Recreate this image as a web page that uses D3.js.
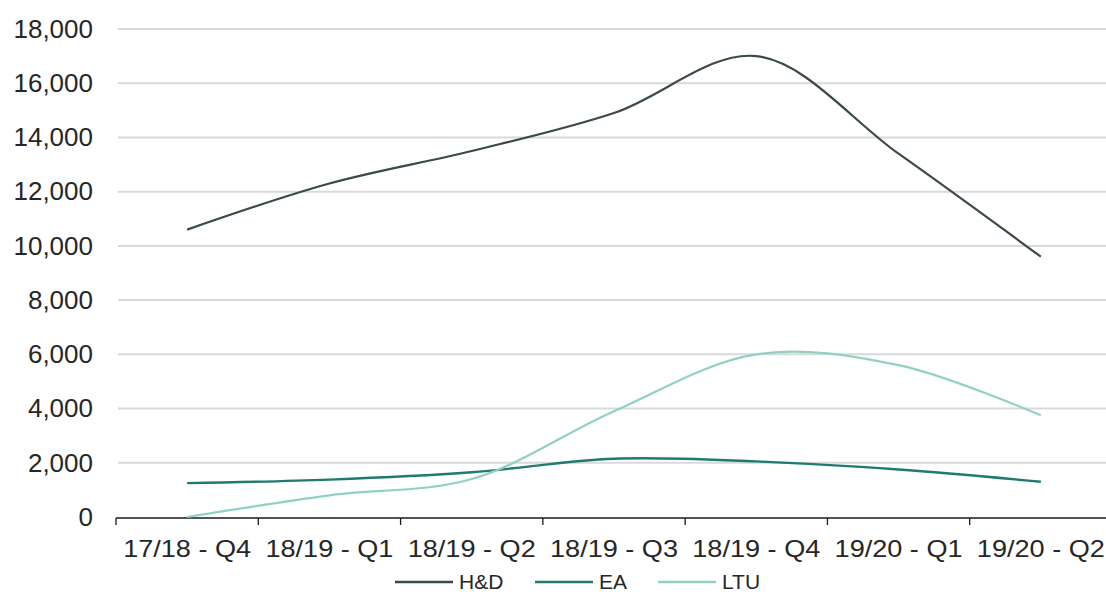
<!DOCTYPE html>
<html>
<head>
<meta charset="utf-8">
<script src="https://cdn.jsdelivr.net/npm/d3@7"></script>
<style>
  html, body { margin: 0; padding: 0; background: #ffffff; }
  svg { display: block; font-family: "Liberation Sans", Arial, sans-serif; }
</style>
</head>
<body>
<svg id="chart" width="1106" height="594"></svg>
<script>
// Quarterly figures per series
const categories = ["17/18 - Q4", "18/19 - Q1", "18/19 - Q2", "18/19 - Q3", "18/19 - Q4", "19/20 - Q1", "19/20 - Q2"];
const hdValues  = [10600, 12300, 13500, 14900, 17000, 13400, 9600];
const eaValues  = [1250, 1380, 1650, 2150, 2050, 1750, 1300];
const ltuValues = [0, 800, 1400, 3900, 6000, 5600, 3750];
const seriesNames = ["H&D", "EA", "LTU"];
const seriesColors = ["#3b4a46", "#1f7b6e", "#8fd2c5"];
const yTicks = [0, 2000, 4000, 6000, 8000, 10000, 12000, 14000, 16000, 18000];

const series = [
  { name: seriesNames[0], values: hdValues,  color: seriesColors[0], width: 2.2 },
  { name: seriesNames[1], values: eaValues,  color: seriesColors[1], width: 2.4 },
  { name: seriesNames[2], values: ltuValues, color: seriesColors[2], width: 2.2 }
];

const svg = d3.select("#chart");
const margin = { left: 116, right: -6, top: 29, bottom: 77 };
const W = 1106, H = 594;

const x = d3.scaleBand()
  .domain(categories)
  .range([margin.left, W - margin.right])
  .paddingInner(0).paddingOuter(0);

const y = d3.scaleLinear()
  .domain([0, 18000])
  .range([H - margin.bottom, margin.top]);

// Horizontal gridlines
svg.append("g")
  .selectAll("line")
  .data(yTicks.filter(d => d > 0))
  .join("line")
  .attr("x1", margin.left + 2)
  .attr("x2", W)
  .attr("y1", d => y(d))
  .attr("y2", d => y(d))
  .attr("stroke", "#d9d9d9")
  .attr("stroke-width", 2);

// Y axis labels (no axis line)
const yAxis = svg.append("g")
  .attr("transform", `translate(${margin.left},0)`)
  .call(d3.axisLeft(y).tickValues(yTicks).tickSize(0).tickPadding(23)
    .tickFormat(d3.format(",")));
yAxis.select(".domain").remove();
yAxis.selectAll("text")
  .attr("font-size", 26)
  .attr("fill", "#262626")
  .attr("font-family", "Liberation Sans, Arial, sans-serif");

// X axis with ticks at band boundaries
const xAxisG = svg.append("g")
  .attr("transform", `translate(0,${y(0) + 1})`);
xAxisG.append("line")
  .attr("x1", margin.left).attr("x2", W)
  .attr("y1", 0).attr("y2", 0)
  .attr("stroke", "#1a1a1a").attr("stroke-width", 1.3);
const boundaries = categories.map(c => x(c));
xAxisG.selectAll(".tk")
  .data(boundaries)
  .join("line")
  .attr("class", "tk")
  .attr("x1", d => d).attr("x2", d => d)
  .attr("y1", 0).attr("y2", 7)
  .attr("stroke", "#1a1a1a").attr("stroke-width", 1.3);
xAxisG.selectAll(".lbl")
  .data(categories)
  .join("text")
  .attr("class", "lbl")
  .attr("x", d => x(d) + x.bandwidth() / 2)
  .attr("y", 39)
  .attr("text-anchor", "middle")
  .attr("font-size", 24)
  .attr("fill", "#262626")
  .attr("textLength", 128)
  .attr("lengthAdjust", "spacingAndGlyphs")
  .text(d => d);

// Smoothed series lines
const line = d3.line()
  .x((d, i) => x(categories[i]) + x.bandwidth() / 2)
  .y(d => y(d))
  .curve(d3.curveCatmullRom.alpha(0.5));

svg.append("g")
  .selectAll("path")
  .data(series)
  .join("path")
  .attr("d", d => line(d.values))
  .attr("fill", "none")
  .attr("stroke", d => d.color)
  .attr("stroke-width", d => d.width)
  .attr("stroke-linejoin", "round");

// Legend
const legendItems = [
  { s: series[0], x0: 395 },
  { s: series[1], x0: 535 },
  { s: series[2], x0: 658 }
];
const lg = svg.append("g").attr("transform", "translate(0,582)");
lg.selectAll("line")
  .data(legendItems)
  .join("line")
  .attr("x1", d => d.x0).attr("x2", d => d.x0 + 58)
  .attr("y1", 0).attr("y2", 0)
  .attr("stroke", d => d.s.color)
  .attr("stroke-width", 2.6);
lg.selectAll("text")
  .data(legendItems)
  .join("text")
  .attr("x", d => d.x0 + 64)
  .attr("y", 7)
  .attr("font-size", 21)
  .attr("fill", "#262626")
  .text(d => d.s.name);
</script>
</body>
</html>
